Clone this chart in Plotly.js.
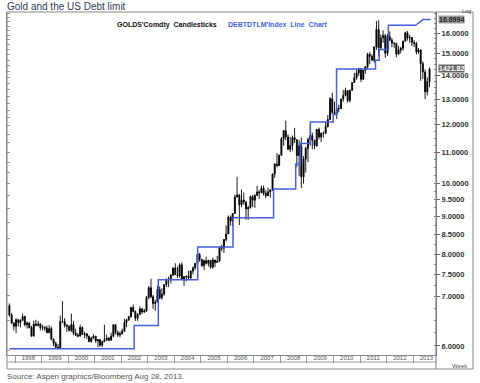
<!DOCTYPE html>
<html><head><meta charset="utf-8">
<script src="https://cdn.plot.ly/plotly-3.0.1.min.js"></script>
<style>html,body{margin:0;padding:0;background:#fff}#chart{width:480px;height:383px}</style>
</head><body><div id="chart"></div>
<script>
// Gold monthly OHLC (USD/oz), Oct 1997 - Aug 2013
const goldMonths = [
'1997-10-15','1997-11-15','1997-12-15',
'1998-01-15','1998-02-15','1998-03-15','1998-04-15','1998-05-15','1998-06-15','1998-07-15','1998-08-15','1998-09-15','1998-10-15','1998-11-15','1998-12-15',
'1999-01-15','1999-02-15','1999-03-15','1999-04-15','1999-05-15','1999-06-15','1999-07-15','1999-08-15','1999-09-15','1999-10-15','1999-11-15','1999-12-15',
'2000-01-15','2000-02-15','2000-03-15','2000-04-15','2000-05-15','2000-06-15','2000-07-15','2000-08-15','2000-09-15','2000-10-15','2000-11-15','2000-12-15',
'2001-01-15','2001-02-15','2001-03-15','2001-04-15','2001-05-15','2001-06-15','2001-07-15','2001-08-15','2001-09-15','2001-10-15','2001-11-15','2001-12-15',
'2002-01-15','2002-02-15','2002-03-15','2002-04-15','2002-05-15','2002-06-15','2002-07-15','2002-08-15','2002-09-15','2002-10-15','2002-11-15','2002-12-15',
'2003-01-15','2003-02-15','2003-03-15','2003-04-15','2003-05-15','2003-06-15','2003-07-15','2003-08-15','2003-09-15','2003-10-15','2003-11-15','2003-12-15',
'2004-01-15','2004-02-15','2004-03-15','2004-04-15','2004-05-15','2004-06-15','2004-07-15','2004-08-15','2004-09-15','2004-10-15','2004-11-15','2004-12-15',
'2005-01-15','2005-02-15','2005-03-15','2005-04-15','2005-05-15','2005-06-15','2005-07-15','2005-08-15','2005-09-15','2005-10-15','2005-11-15','2005-12-15',
'2006-01-15','2006-02-15','2006-03-15','2006-04-15','2006-05-15','2006-06-15','2006-07-15','2006-08-15','2006-09-15','2006-10-15','2006-11-15','2006-12-15',
'2007-01-15','2007-02-15','2007-03-15','2007-04-15','2007-05-15','2007-06-15','2007-07-15','2007-08-15','2007-09-15','2007-10-15','2007-11-15','2007-12-15',
'2008-01-15','2008-02-15','2008-03-15','2008-04-15','2008-05-15','2008-06-15','2008-07-15','2008-08-15','2008-09-15','2008-10-15','2008-11-15','2008-12-15',
'2009-01-15','2009-02-15','2009-03-15','2009-04-15','2009-05-15','2009-06-15','2009-07-15','2009-08-15','2009-09-15','2009-10-15','2009-11-15','2009-12-15',
'2010-01-15','2010-02-15','2010-03-15','2010-04-15','2010-05-15','2010-06-15','2010-07-15','2010-08-15','2010-09-15','2010-10-15','2010-11-15','2010-12-15',
'2011-01-15','2011-02-15','2011-03-15','2011-04-15','2011-05-15','2011-06-15','2011-07-15','2011-08-15','2011-09-15','2011-10-15','2011-11-15','2011-12-15',
'2012-01-15','2012-02-15','2012-03-15','2012-04-15','2012-05-15','2012-06-15','2012-07-15','2012-08-15','2012-09-15','2012-10-15','2012-11-15','2012-12-15',
'2013-01-15','2013-02-15','2013-03-15','2013-04-15','2013-05-15','2013-06-15','2013-07-15','2013-08-15'
];
const goldOpen = [
330,311,296,
290,302,297,301,308,293,296,288,273,294,292,294,
288,287,287,279,286,268,261,255,254,299,299,292,
290,283,293,278,275,273,288,276,277,273,264,270,
273,265,267,258,264,267,270,266,273,293,279,275,
277,282,297,302,308,326,318,305,312,323,317,319,
347,368,348,334,337,364,346,354,375,388,386,398,
416,399,396,424,387,394,395,391,408,416,428,453,
438,422,435,428,436,418,437,430,434,473,470,496,
513,569,556,582,645,653,614,633,624,599,604,646,
632,651,665,662,680,659,650,665,673,743,789,783,
834,923,971,934,865,886,930,918,833,884,730,815,
870,919,942,916,884,979,934,955,955,996,1040,1182,
1087,1078,1109,1113,1180,1207,1244,1169,1246,1307,1346,1386,
1421,1333,1410,1439,1556,1536,1500,1628,1813,1620,1722,1746,
1566,1737,1697,1668,1664,1558,1598,1614,1687,1776,1720,1726,
1675,1664,1579,1598,1469,1394,1234,1314
];
const goldHigh = [
334,315,298,
305,303,303,314,310,299,298,291,300,302,300,296,
293,291,291,292,290,269,264,260,310,339,305,294,
292,314,300,286,278,293,290,280,278,274,272,276,
273,268,268,265,293,276,271,279,294,294,283,281,
286,304,304,309,327,332,320,315,328,325,323,350,
372,389,352,342,373,371,367,376,390,394,400,417,
428,419,428,430,395,397,409,410,420,429,456,456,
440,438,446,438,437,443,437,448,475,480,497,541,
575,575,584,654,730,655,675,663,630,610,650,652,
656,690,672,692,692,672,683,677,745,795,845,838,
934,975,1033,950,935,942,988,920,915,930,830,880,
930,1007,960,916,980,990,960,965,1025,1070,1195,1227,
1162,1125,1140,1182,1249,1265,1245,1250,1310,1388,1425,1432,
1424,1412,1447,1570,1577,1556,1632,1911,1921,1760,1803,1764,
1764,1791,1720,1675,1668,1640,1630,1692,1790,1796,1755,1728,
1696,1680,1617,1605,1488,1418,1348,1434
];
const goldLow = [
308,294,283,
278,290,288,300,290,286,286,272,273,290,290,283,
283,282,278,278,266,257,253,252,254,296,288,280,
281,280,275,273,271,273,275,270,268,263,262,268,
262,255,256,255,263,265,265,266,271,276,272,271,
276,280,289,300,306,316,300,300,312,313,315,317,
343,345,323,319,337,343,342,350,370,370,378,396,
399,391,392,387,372,383,387,389,400,411,422,432,
418,411,425,420,414,414,418,430,433,461,456,490,
513,540,538,582,642,542,605,614,560,560,600,606,
603,650,637,660,650,640,648,642,670,725,774,780,
832,885,915,862,850,858,900,775,735,681,700,750,
800,885,865,866,880,920,905,930,950,990,1040,1075,
1075,1044,1088,1110,1160,1200,1155,1157,1243,1305,1330,1360,
1310,1328,1380,1420,1462,1495,1478,1600,1535,1600,1670,1523,
1540,1688,1627,1616,1527,1550,1565,1590,1685,1693,1672,1636,
1627,1554,1562,1321,1338,1180,1207,1270
];
const goldClose = [
311,296,290,
302,297,301,308,293,296,288,273,294,292,294,288,
287,287,279,286,268,261,255,254,299,299,292,290,
283,293,278,275,273,288,276,277,273,264,270,273,
265,267,258,264,267,270,266,273,293,279,275,277,
282,297,302,308,326,318,305,312,323,317,319,347,
368,348,334,337,364,346,354,375,388,386,398,416,
399,396,424,387,394,395,391,408,416,428,453,438,
422,435,428,436,418,437,430,434,473,470,496,513,
569,556,582,645,653,614,633,624,599,604,646,632,
651,665,662,680,659,650,665,673,743,789,783,834,
923,971,934,865,886,930,918,833,884,730,815,870,
919,942,916,884,979,934,955,955,996,1040,1182,1087,
1078,1109,1113,1180,1207,1244,1169,1246,1307,1346,1386,1421,
1333,1410,1439,1556,1536,1500,1628,1813,1620,1722,1746,1566,
1737,1697,1668,1664,1558,1598,1614,1687,1776,1720,1726,1675,
1664,1579,1598,1469,1394,1234,1314,1421.82
];

// US debt limit (USD trillion), stepped line vertices
const debtDates = [
'1997-10-15','2002-06-28','2002-06-28','2003-05-27','2003-05-27','2004-11-19','2004-11-19',
'2006-03-20','2006-03-20','2007-09-29','2007-09-29','2008-07-30','2008-07-30','2008-10-03','2008-10-03',
'2009-02-17','2009-02-17','2009-12-28','2009-12-28','2010-02-12','2010-02-12','2011-08-02','2011-08-02',
'2011-09-22','2011-09-22','2012-01-27','2012-01-27','2013-02-04','2013-05-19','2013-08-30'
];
const debtValues = [
5.95,5.95,6.4,6.4,7.384,7.384,8.184,
8.184,8.965,8.965,9.815,9.815,10.615,10.615,11.315,
11.315,12.104,12.104,12.394,12.394,14.294,14.294,14.694,
14.694,15.194,15.194,16.394,16.394,16.6994,16.6994
];

const debtTicks = [6,7,7.5,8,8.5,9,9.5,10,11,12,13,14,15,16];
const goldLast = 1421.82;
const debtLast = 16.6994;

const goldName = "GOLDS'Comdty  Candlesticks";
const debtName = "DEBTDTLM'Index  Line  Chart";

const FONT = 'Liberation Sans, Arial, sans-serif';

// plot area in px: x 7..436, y 12..355
const PX0 = 7, PW = 429, PY1 = 355, PH = 343;
const px = v => (v - PX0) / PW;
const py = v => (PY1 - v) / PH;

const traces = [
  {
    type: 'candlestick', x: goldMonths, open: goldOpen, high: goldHigh, low: goldLow, close: goldClose,
    xaxis: 'x', yaxis: 'y', name: goldName,
    increasing: {line: {color: '#000', width: 0.9}, fillcolor: '#000'},
    decreasing: {line: {color: '#000', width: 0.9}, fillcolor: '#000'},
    whiskerwidth: 0, hoverinfo: 'skip'
  },
  {
    type: 'scatter', mode: 'lines', x: debtDates, y: debtValues, xaxis: 'x', yaxis: 'y2', name: debtName,
    line: {color: '#4a5fd4', width: 1.5}, hoverinfo: 'skip'
  }
];

const layout = {
  width: 480, height: 383,
  margin: {l: 7, r: 44, t: 12, b: 28, pad: 0},
  paper_bgcolor: '#fff', plot_bgcolor: '#fff',
  showlegend: false,
  font: {family: FONT, size: 7, color: '#333'},
  xaxis: {
    type: 'date', range: ['1997-09-12', '2013-11-12'], rangeslider: {visible: false},
    tick0: '1998-01-01', dtick: 'M12', tickformat: '%Y', ticklabelmode: 'period',
    ticks: 'outside', ticklen: 7, tickcolor: '#999', tickwidth: 1,
    showline: true, linecolor: '#888', linewidth: 1, showgrid: false, zeroline: false,
    tickfont: {family: FONT, size: 6, color: '#555'}, ticklabelstandoff: -10
  },
  yaxis: {
    type: 'log', range: [Math.log10(243), Math.log10(2020)], showticklabels: false,
    ticks: 'inside', ticklen: 3, tickcolor: '#999', dtick: 'L50',
    showline: true, linecolor: '#888', linewidth: 1, showgrid: false, zeroline: false
  },
  yaxis2: {
    type: 'log', overlaying: 'y', side: 'right', anchor: 'x',
    range: [Math.log10(5.833), Math.log10(17.09)],
    tickvals: debtTicks, tickformat: '.4f',
    ticks: 'outside', ticklen: 3, tickcolor: '#666',
    minor: {ticks: 'inside', ticklen: 2, tickcolor: '#888', dtick: 'L0.25'},
    showline: true, linecolor: '#777', linewidth: 1, showgrid: false, zeroline: false,
    tickfont: {family: FONT, size: 7.5, color: '#333', weight: 'bold'}
  },
  shapes: [
    {type: 'rect', xref: 'paper', yref: 'paper', x0: px(7), x1: px(473), y0: py(369), y1: py(12),
      line: {color: '#888', width: 1}},
    {type: 'line', xref: 'paper', yref: 'paper', x0: px(7), x1: px(436), y0: py(362), y1: py(362),
      line: {color: '#999', width: 1}},
    {type: 'line', xref: 'paper', yref: 'paper', x0: px(436), x1: px(436), y0: py(369), y1: py(12),
      line: {color: '#777', width: 1}}
  ],
  annotations: [
    {xref: 'paper', yref: 'paper', x: px(5), y: py(7), xanchor: 'left', yanchor: 'middle', showarrow: false,
      text: 'Gold and the US Debt limit', font: {family: FONT, size: 10, color: '#2f3b55'}},
    {xref: 'paper', yref: 'paper', x: px(5), y: py(376), xanchor: 'left', yanchor: 'middle', showarrow: false,
      text: 'Source: Aspen graphics/Bloomberg Aug 28, 2013.', font: {family: FONT, size: 8, color: '#555'}},
    {xref: 'paper', yref: 'paper', x: px(115), y: py(25), xanchor: 'left', yanchor: 'middle', showarrow: false,
      text: goldName, font: {family: FONT, size: 7, color: '#111', weight: 'bold'}},
    {xref: 'paper', yref: 'paper', x: px(226), y: py(25), xanchor: 'left', yanchor: 'middle', showarrow: false,
      text: debtName, font: {family: FONT, size: 7, color: '#4a5fd4', weight: 'bold'}},
    {xref: 'paper', yref: 'paper', x: px(460), y: py(366), xanchor: 'center', yanchor: 'middle', showarrow: false,
      text: 'Week', font: {family: FONT, size: 6, color: '#555'}},
    {xref: 'paper', yref: 'paper', x: px(466), y: py(11), xanchor: 'center', yanchor: 'middle', showarrow: false,
      text: 'Log', font: {family: FONT, size: 5.5, color: '#444'}},
    {xref: 'paper', yref: 'y', x: px(438), y: Math.log10(goldLast), xanchor: 'left', yanchor: 'middle', showarrow: false,
      text: goldLast.toFixed(2), bgcolor: '#666666', borderpad: 0,
      font: {family: FONT, size: 7, color: '#ffffff', weight: 'bold'}},
    {xref: 'paper', yref: 'y2', x: px(438), y: Math.log10(debtLast), xanchor: 'left', yanchor: 'middle', showarrow: false,
      text: debtLast.toFixed(4), bgcolor: '#9a9a9a', borderpad: 0,
      font: {family: FONT, size: 7, color: '#222', weight: 'bold'}}
  ]
};

Plotly.newPlot('chart', traces, layout, {staticPlot: true, displayModeBar: false});
</script>
</body></html>
